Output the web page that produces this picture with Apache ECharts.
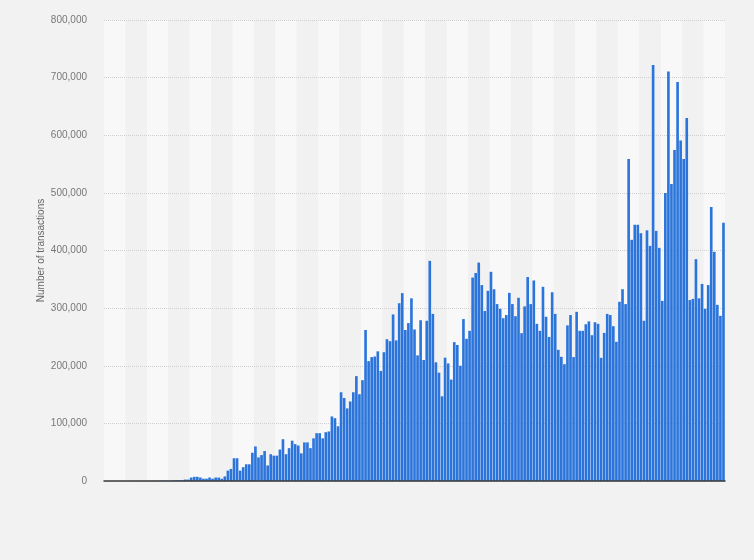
<!DOCTYPE html>
<html>
<head>
<meta charset="utf-8">
<script src="https://cdn.jsdelivr.net/npm/echarts@6/dist/echarts.min.js"></script>
<style>
html,body{margin:0;padding:0;background:#f2f2f2;}
#chart{width:754px;height:560px;}
</style>
</head>
<body>
<div id="chart"></div>
<script>
// Monthly values (Jan 2009 – Nov 2025), number of transactions
var y2009 = [60, 90, 110, 130, 150, 140, 120, 110, 130, 150, 170, 200];
var y2010 = [250, 270, 300, 320, 350, 400, 450, 600, 550, 500, 900, 1300];
var y2011 = [1200, 1500, 2500, 2500, 6000, 7300, 7300, 6000, 4000, 4000, 6000, 4000];
var y2012 = [6000, 6000, 4000, 8000, 18000, 21000, 39500, 39500, 18000, 24000, 29000, 29000];
var y2013 = [49000, 60000, 41000, 45000, 52000, 27000, 46500, 44000, 44000, 54600, 72500, 46500];
var y2014 = [57000, 70000, 64000, 61600, 48000, 67000, 67000, 57000, 74000, 83000, 83000, 74000];
var y2015 = [84700, 86000, 112000, 109000, 95000, 154000, 144000, 126000, 138000, 154000, 182000, 150600];
var y2016 = [175000, 262000, 208000, 215000, 216000, 225000, 191000, 223500, 246000, 242600, 289000, 244000];
var y2017 = [308500, 326000, 262000, 274000, 317000, 263000, 218000, 279000, 210000, 278000, 382000, 290000];
var y2018 = [206000, 188000, 147000, 214000, 204000, 176000, 241000, 236000, 200000, 281000, 246700, 260600];
var y2019 = [353000, 361000, 379000, 340000, 295000, 330000, 363000, 332800, 307000, 298800, 282500, 288000];
var y2020 = [326500, 307000, 286000, 318000, 256500, 303000, 354000, 307000, 348000, 272700, 260600, 337000];
var y2021 = [285000, 250000, 327600, 290000, 227600, 215500, 202700, 270000, 288000, 215000, 293600, 260600];
var y2022 = [260600, 272000, 277000, 253000, 275500, 272700, 213700, 257000, 290000, 288000, 268600, 241500];
var y2023 = [311000, 332800, 307000, 559000, 418500, 444500, 444500, 430000, 278000, 435000, 408000, 722000];
var y2024 = [434000, 404600, 312600, 500000, 710500, 515600, 574600, 692600, 590800, 559000, 630000, 314000];
var y2025 = [316000, 385000, 317000, 342000, 298800, 340000, 475700, 397600, 305700, 286600, 448000];

var years = [2009,2010,2011,2012,2013,2014,2015,2016,2017,2018,2019,2020,2021,2022,2023,2024,2025];
var monthNames = ['Jan','Feb','Mar','Apr','May','Jun','Jul','Aug','Sep','Oct','Nov','Dec'];
var yTicks = [0, 100000, 200000, 300000, 400000, 500000, 600000, 700000, 800000];
var yAxisTitle = 'Number of transactions';

var values = [].concat(y2009, y2010, y2011, y2012, y2013, y2014, y2015, y2016, y2017,
  y2018, y2019, y2020, y2021, y2022, y2023, y2024, y2025);
var categories = [];
years.forEach(function (yr) {
  monthNames.forEach(function (m) {
    if (categories.length < values.length) categories.push(m + ' ' + yr);
  });
});
var bandCount = Math.ceil(values.length / 7);
var bands = [];
for (var b = 0; b < bandCount; b++) bands.push('b' + b);

var chart = echarts.init(document.getElementById('chart'), null, {renderer: 'canvas'});
chart.setOption({
  animation: false,
  backgroundColor: '#f2f2f2',
  grid: {left: 104, right: 29, top: 20, bottom: 79, containLabel: false},
  xAxis: [{
    type: 'category',
    data: categories,
    boundaryGap: true,
    axisLine: {show: true, lineStyle: {color: '#3a3a3a', width: 1.5}},
    axisTick: {show: false},
    axisLabel: {show: false},
    splitLine: {show: false},
    z: 5
  }, {
    type: 'category',
    data: bands,
    position: 'bottom',
    boundaryGap: true,
    axisLine: {show: false},
    axisTick: {show: false, interval: 0},
    axisLabel: {show: false, interval: 0},
    splitLine: {show: false},
    splitArea: {show: true, interval: 0, areaStyle: {color: ['#f8f8f8', '#f1f1f1']}},
    z: 0
  }],
  yAxis: {
    type: 'value',
    min: yTicks[0],
    max: yTicks[yTicks.length - 1],
    interval: 100000,
    name: yAxisTitle,
    nameLocation: 'middle',
    nameGap: 58,
    nameMoveOverlap: false,
    nameRotate: 90,
    nameTextStyle: {color: '#666', fontSize: 10, fontFamily: 'Liberation Sans, Arial, sans-serif'},
    axisLine: {show: false},
    axisTick: {show: false},
    axisLabel: {
      color: '#777', fontSize: 10, margin: 17,
      fontFamily: 'Liberation Sans, Arial, sans-serif',
      formatter: function (v) { return String(v).replace(/\B(?=(\d{3})+(?!\d))/g, ','); }
    },
    splitLine: {show: true, lineStyle: {color: '#d0d0d0', type: [1, 1], width: 1}},
    z: 2
  },
  series: [{
    type: 'bar',
    xAxisIndex: 0,
    data: values,
    barCategoryGap: '14%',
    itemStyle: {color: '#2a74db'},
    z: 3
  }]
});
</script>
</body>
</html>
